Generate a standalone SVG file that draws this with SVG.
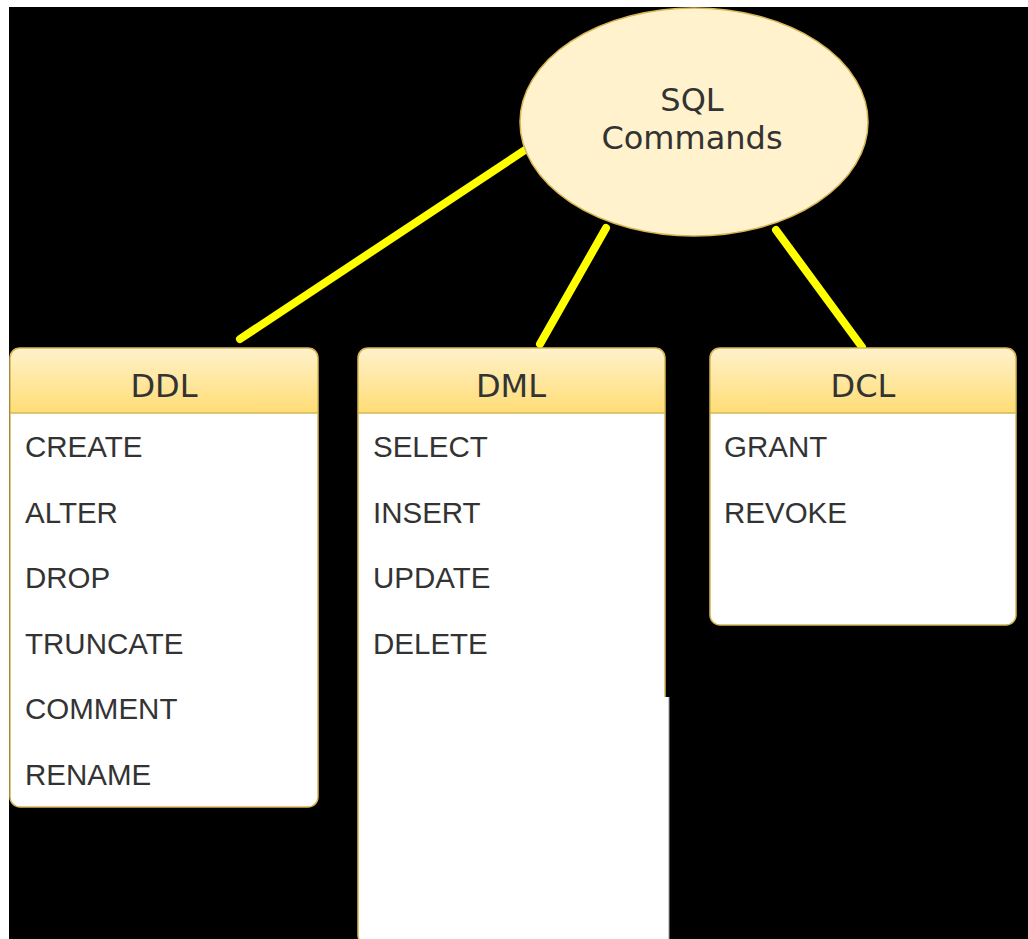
<svg xmlns="http://www.w3.org/2000/svg" width="1028" height="939" viewBox="0 0 1028 939">
  <defs>
    <linearGradient id="headFill" x1="0" y1="0" x2="0" y2="1">
      <stop offset="0" stop-color="#fff2cc"/>
      <stop offset="1" stop-color="#ffd966"/>
    </linearGradient>
    <clipPath id="headClip-ddl"><rect x="10" y="348" width="308" height="65"/></clipPath>
    <clipPath id="headClip-dml"><rect x="358" y="348" width="307" height="65"/></clipPath>
    <clipPath id="headClip-dcl"><rect x="710" y="348" width="306" height="65"/></clipPath>
  </defs>
  <style>
    .box { fill: #ffffff; stroke: #d6b656; stroke-width: 1.5; }
    .head { fill: url(#headFill); stroke: #d6b656; stroke-width: 1.5; }
    .title { font-family: "DejaVu Sans", Verdana, sans-serif; font-size: 32px; fill: #333333; text-anchor: middle; }
    .item { font-family: "Liberation Sans", Arial, sans-serif; font-size: 29.5px; fill: #333333; }
    .link { stroke: #ffff00; stroke-width: 8; stroke-linecap: round; fill: none; }
  </style>

  <!-- page background -->
  <rect x="0" y="0" width="1028" height="939" fill="#ffffff"/>
  <rect x="9" y="7" width="1019" height="932" fill="#000000"/>

  <!-- connectors -->
  <g id="connectors">
    <line class="link" x1="531" y1="146" x2="240" y2="339"/>
    <line class="link" x1="606" y1="228" x2="540" y2="344"/>
    <line class="link" x1="776" y1="230" x2="862" y2="347"/>
  </g>

  <!-- root node -->
  <g id="sql-commands">
    <ellipse cx="694" cy="122" rx="174" ry="114" fill="#fff2cc" stroke="#d6b656" stroke-width="1.5"/>
    <text class="title" x="692" y="111">SQL</text>
    <text class="title" x="692" y="149">Commands</text>
  </g>

  <!-- DDL table -->
  <g id="ddl">
    <rect class="box" x="10" y="348" width="308" height="459" rx="10"/>
    <rect class="head" x="10" y="348" width="308" height="75" rx="10" clip-path="url(#headClip-ddl)"/>
    <line x1="10" y1="413" x2="318" y2="413" stroke="#d6b656" stroke-width="1.5"/>
    <text class="title" x="164" y="397">DDL</text>
    <text class="item" x="25" y="457">CREATE</text>
    <text class="item" x="25" y="523">ALTER</text>
    <text class="item" x="25" y="588">DROP</text>
    <text class="item" x="25" y="654">TRUNCATE</text>
    <text class="item" x="25" y="719">COMMENT</text>
    <text class="item" x="25" y="785">RENAME</text>
  </g>

  <!-- DML table -->
  <g id="dml">
    <rect class="box" x="358" y="348" width="307" height="597" rx="10"/>
    <rect class="head" x="358" y="348" width="307" height="75" rx="10" clip-path="url(#headClip-dml)"/>
    <line x1="358" y1="413" x2="665" y2="413" stroke="#d6b656" stroke-width="1.5"/>
    <rect x="364" y="697" width="305" height="242" fill="#ffffff"/>
    <line x1="669" y1="697" x2="669" y2="939" stroke="#9a9a9a" stroke-width="1"/>
    <text class="title" x="511" y="397">DML</text>
    <text class="item" x="373" y="457">SELECT</text>
    <text class="item" x="373" y="523">INSERT</text>
    <text class="item" x="373" y="588">UPDATE</text>
    <text class="item" x="373" y="654">DELETE</text>
  </g>

  <!-- DCL table -->
  <g id="dcl">
    <rect class="box" x="710" y="348" width="306" height="277" rx="10"/>
    <rect class="head" x="710" y="348" width="306" height="75" rx="10" clip-path="url(#headClip-dcl)"/>
    <line x1="710" y1="413" x2="1016" y2="413" stroke="#d6b656" stroke-width="1.5"/>
    <text class="title" x="863" y="397">DCL</text>
    <text class="item" x="724" y="457">GRANT</text>
    <text class="item" x="724" y="523">REVOKE</text>
  </g>
</svg>
